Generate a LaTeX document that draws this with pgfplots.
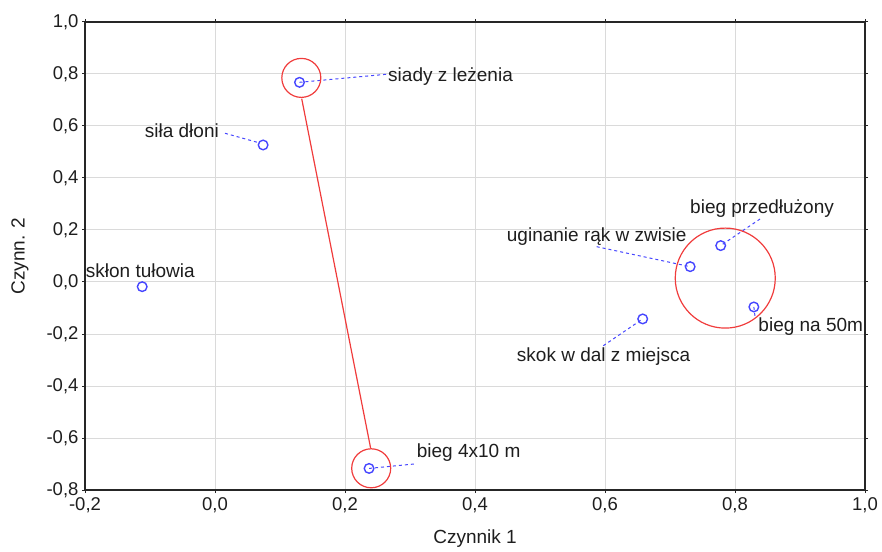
\documentclass[border=0pt]{standalone}
\usepackage{fontspec}
\setmainfont{Liberation Sans}
\usepackage{pgfplots}
\pgfplotsset{compat=1.18}
\definecolor{ptblue}{RGB}{70,70,255}
\definecolor{gridgray}{RGB}{218,218,218}
\definecolor{circred}{RGB}{240,60,60}
\definecolor{txt}{RGB}{30,30,30}
\begin{document}
\begin{tikzpicture}[x=1pt,y=1pt]
\path[use as bounding box] (0,0) rectangle (882,551);
\begin{axis}[
  at={(85pt,61pt)}, anchor=south west,
  width=780pt, height=468pt, scale only axis,
  xmin=-0.2, xmax=1.0, ymin=-0.8, ymax=1.0,
  xtick={-0.2,0,0.2,0.4,0.6,0.8,1.0},
  ytick={-0.8,-0.6,-0.4,-0.2,0,0.2,0.4,0.6,0.8,1.0},
  grid=major,
  major grid style={gridgray, line width=1pt},
  axis line style={black!85, line width=1.2pt},
  tick align=outside, major tick length=3pt,
  tick style={black!85, line width=1pt},
  /pgf/number format/assume math mode=true,
  /pgf/number format/.cd, use comma, fixed, fixed zerofill, precision=1, /pgfplots/.cd,
  tick label style={font=\fontsize{18.5}{21}\selectfont, text=txt},
  xticklabel style={yshift=-1pt},
  xlabel={Czynnik 1}, ylabel={Czynn. 2},
  label style={font=\fontsize{19}{22}\selectfont, text=txt},
  xlabel style={at={(axis description cs:0.5,-0.1047)}, anchor=center},
  ylabel style={at={(axis description cs:-0.0833,0.5)}, anchor=center, rotate=0},
]
% red line connecting circled variables
\addplot[circred, line width=1.2pt] coordinates {(0.1334,0.705) (0.2395,-0.640)};
% red circles
\addplot[only marks, mark=o, mark size=19.5pt, circred, mark options={line width=1.2pt}]
  coordinates {(0.1328,0.785) (0.2403,-0.7165)};
\addplot[only marks, mark=o, mark size=50pt, circred, mark options={line width=1.2pt}]
  coordinates {(0.785,0.015)};
% dashed connectors
\addplot[ptblue, dashed, line width=1pt] coordinates {(0.130,0.768) (0.264,0.799)};
\addplot[ptblue, dashed, line width=1pt] coordinates {(0.0154,0.572) (0.0669,0.536)};
\addplot[ptblue, dashed, line width=1pt] coordinates {(0.237,-0.717) (0.3103,-0.699)};
\addplot[ptblue, dashed, line width=1pt] coordinates {(0.5872,0.1358) (0.731,0.059)};
\addplot[ptblue, dashed, line width=1pt] coordinates {(0.8385,0.2423) (0.778,0.140)};
\addplot[ptblue, dashed, line width=1pt] coordinates {(0.829,-0.096) (0.8308,-0.1335)};
\addplot[ptblue, dashed, line width=1pt] coordinates {(0.5974,-0.245) (0.658,-0.142)};
% data points
\addplot[only marks, mark=o, mark size=4.8pt, ptblue, mark options={line width=1.4pt}]
  coordinates {
  (0.130,0.768)
  (0.074,0.527)
  (-0.112,-0.018)
  (0.237,-0.717)
  (0.731,0.059)
  (0.778,0.140)
  (0.829,-0.096)
  (0.658,-0.142)
  };
% labels
\begin{scope}[every node/.style={font=\fontsize{19}{22}\selectfont, text=txt, inner sep=0pt}]
\node[anchor=base west] at (axis cs:0.2662,0.77) {siady z leżenia};
\node[anchor=base east] at (axis cs:0.0062,0.556) {siła dłoni};
\node[anchor=base west] at (axis cs:-0.1989,0.0165) {skłon tułowia};
\node[anchor=base west] at (axis cs:0.3103,-0.6742) {bieg 4x10 m};
\node[anchor=base west] at (axis cs:0.4488,0.1550) {uginanie rąk w zwisie};
\node[anchor=base west] at (axis cs:0.7308,0.2642) {bieg przedłużony};
\node[anchor=base west] at (axis cs:0.8358,-0.1912) {bieg na 50m};
\node[anchor=base west] at (axis cs:0.4642,-0.3065) {skok w dal z miejsca};
\end{scope}
\end{axis}
\end{tikzpicture}
\end{document}
